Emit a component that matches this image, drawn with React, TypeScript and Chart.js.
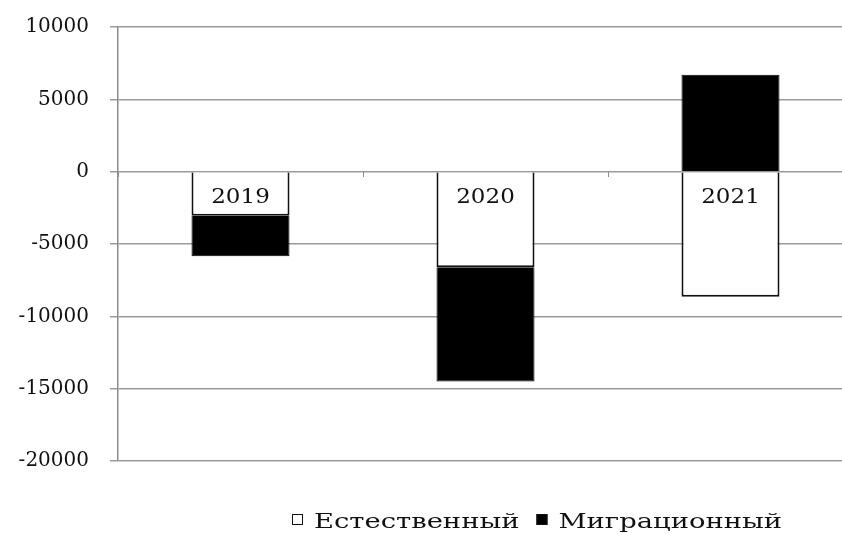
import React, { useEffect, useRef } from "react";
import { Chart, registerables } from "chart.js";

Chart.register(...registerables);

const years = ["2019", "2020", "2021"];
const naturalValues = [-3050, -6600, -8650];
const migrationValues = [-2800, -7900, 6700];
const seriesLabels = ["Естественный", "Миграционный"];
const yMin = -20000;
const yMax = 10000;
const yStep = 5000;

const FONT = "'DejaVu Serif', serif";

const categoryLabelPlugin = {
  id: "categoryLabels",
  afterDatasetsDraw(chart: any) {
    const ctx = chart.ctx;
    const xs = chart.scales.x;
    const ys = chart.scales.y;
    const y0 = ys.getPixelForValue(0);
    ctx.save();
    ctx.font = `20px ${FONT}`;
    ctx.fillStyle = "#111";
    ctx.textAlign = "center";
    ctx.textBaseline = "middle";
    chart.data.labels.forEach((lab: string, i: number) => {
      ctx.save();
      ctx.translate(xs.getPixelForValue(i), y0 + 26);
      ctx.scale(1.15, 1);
      ctx.fillText(lab, 0, 0);
      ctx.restore();
    });
    ctx.restore();
  },
};

const legendPlugin = {
  id: "customLegend",
  afterDraw(chart: any) {
    const ctx = chart.ctx;
    ctx.save();
    ctx.font = `20px ${FONT}`;
    ctx.textBaseline = "alphabetic";
    const stretch = 1.37;
    let x = 292;
    const boxTop = 514;
    const baseline = 528;
    chart.data.datasets.forEach((ds: any) => {
      ctx.fillStyle = ds.backgroundColor;
      ctx.fillRect(x, boxTop, 11, 11);
      ctx.strokeStyle = "#111";
      ctx.lineWidth = 1;
      ctx.strokeRect(x + 0.5, boxTop + 0.5, 10, 10);
      x += 22;
      ctx.fillStyle = "#111";
      ctx.save();
      ctx.translate(x, baseline);
      ctx.scale(stretch, 1);
      ctx.fillText(ds.label, 0, 0);
      ctx.restore();
      x += ctx.measureText(ds.label).width * stretch + 17;
    });
    ctx.restore();
  },
};

export default function App() {
  const ref = useRef<HTMLCanvasElement>(null);
  useEffect(() => {
    document.body.style.margin = "0";
    const chart = new Chart(ref.current!, {
      type: "bar",
      data: {
        labels: years,
        datasets: [
          {
            label: seriesLabels[0],
            data: naturalValues,
            backgroundColor: "#ffffff",
            borderColor: "#111111",
            borderWidth: 2,
            categoryPercentage: 0.4,
            barPercentage: 1,
          },
          {
            label: seriesLabels[1],
            data: migrationValues,
            backgroundColor: "#000000",
            borderColor: "#000000",
            borderWidth: 1,
            categoryPercentage: 0.4,
            barPercentage: 1,
          },
        ],
      },
      options: {
        responsive: false,
        animation: false,
        layout: { padding: { top: 27, bottom: 73, left: 0, right: 0 } },
        plugins: {
          legend: { display: false },
          tooltip: { enabled: false },
        },
        scales: {
          x: {
            stacked: true,
            position: { y: 0 } as any,
            grid: {
              display: true,
              drawOnChartArea: false,
              drawTicks: true,
              tickLength: 5,
              color: "#8c8c8c",
              offset: true,
            },
            border: { display: false },
            ticks: { display: false },
            afterFit(scale: any) {
              scale.height = 0;
              scale.paddingTop = 0;
              scale.paddingBottom = 0;
            },
          },
          y: {
            stacked: true,
            min: yMin,
            max: yMax,
            ticks: {
              stepSize: yStep,
              color: "#111",
              font: { family: FONT, size: 20 },
              padding: 21,
              callback: (v: any) => String(v),
            },
            grid: { color: "#9a9a9a", lineWidth: 1.5, tickLength: 8 },
            border: { display: true, color: "#8c8c8c", width: 1.5 },
            afterFit(scale: any) {
              scale.width = 118;
              scale.paddingTop = 0;
              scale.paddingBottom = 0;
            },
          },
        },
      },
      plugins: [categoryLabelPlugin, legendPlugin],
    });
    return () => chart.destroy();
  }, []);
  return (
    <div style={{ width: 842, height: 534, overflow: "hidden", position: "relative" }}>
      <canvas ref={ref} width={853} height={534} />
    </div>
  );
}
